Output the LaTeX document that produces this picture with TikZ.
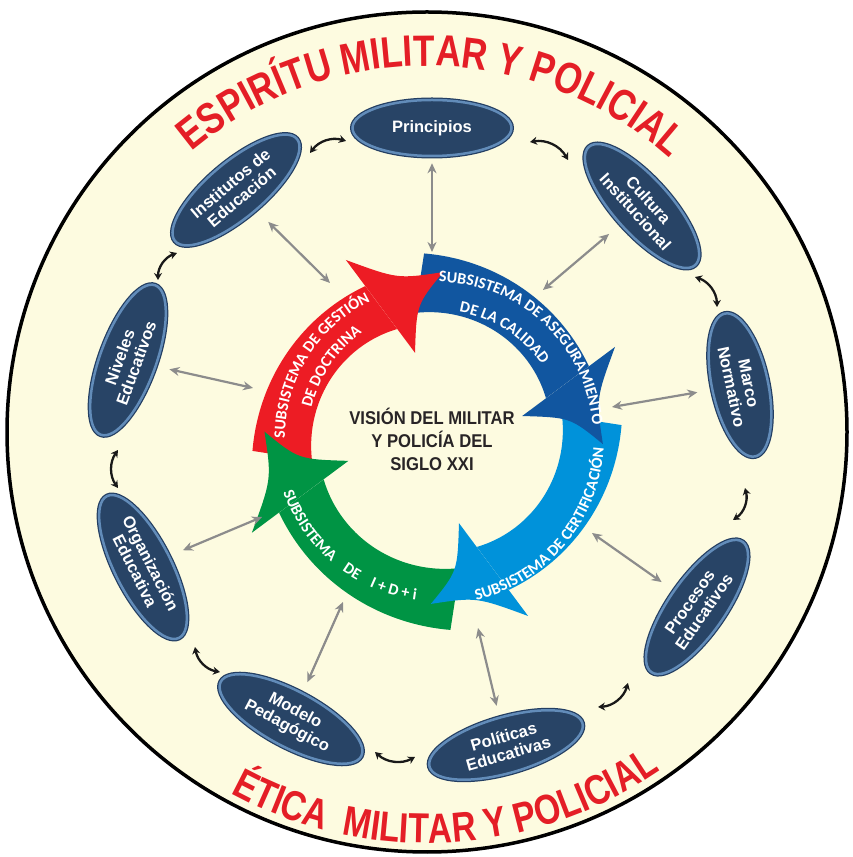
\documentclass[tikz,border=0pt]{standalone}
\usepackage{fontspec}
\setmainfont{Liberation Sans}
\newfontfamily\arcfam[FakeStretch=0.8]{Liberation Sans}
\newfontfamily\ctrfam[FakeStretch=0.9]{Liberation Sans}
\newfontfamily\ellfam{Liberation Sans}
\newfontfamily\ringfam{Carlito}
\usetikzlibrary{shapes.geometric,arrows.meta,decorations.text,calc}
\definecolor{cream}{RGB}{253,251,224}
\definecolor{arcred}{RGB}{228,30,38}
\definecolor{rred}{RGB}{237,28,36}
\definecolor{rblue}{RGB}{17,86,160}
\definecolor{rlblue}{RGB}{0,146,218}
\definecolor{rgreen}{RGB}{0,148,68}
\definecolor{ellfill}{RGB}{40,68,102}
\definecolor{ellrim}{RGB}{98,140,185}
\definecolor{ellout}{RGB}{35,62,98}
\definecolor{grayarrc}{RGB}{140,140,140}
\definecolor{ctrtext}{RGB}{40,36,38}
\newcommand\arcfonta{\arcfam\bfseries\fontsize{44}{44}\selectfont}
\newcommand\arcfontb{\arcfam\bfseries\fontsize{42}{42}\selectfont}
\newcommand\ringfont{\ringfam\bfseries\fontsize{16}{16}\selectfont}
\newcommand\ringband[3]{%
  \begin{scope}[shift={(C)}, rotate=#1, scale=#3]
    \fill[#2] plot[domain=184:115.3, samples=50] (\x:{168+17*((\x-115.3)/68.7)^2})
      -- plot[domain=110.1:190, samples=50] (\x:{116+11*((\x-110.1)/79.9)}) -- cycle;
  \end{scope}}
\newcommand\ringhead[3]{%
  \begin{scope}[shift={(C)}, rotate=#1, scale=#3]
    \fill[#2] (-91.1,178) .. controls (-39.4,159) .. (6.1,165.9)
      .. controls (-20.5,133.4) .. (-22,85.2) -- cycle;
  \end{scope}}
\tikzset{
  ellnode/.style={ellipse, fill=ellfill, draw=ellrim, line width=2.5pt,
    preaction={draw=ellout, line width=5pt},
    minimum width=159pt, minimum height=56pt, inner sep=0pt,
    text=white, align=center, font=\ellfam\bfseries\fontsize{16.5}{17.5}\selectfont},
  grayarr/.style={draw=grayarrc, line width=2.2pt,
    {Stealth[length=10pt,width=9pt]}-{Stealth[length=10pt,width=9pt]}},
  blackarr/.style={draw=black!90, line width=2.3pt,
    {Stealth[length=7pt,width=8pt]}-{Stealth[length=7pt,width=8pt]}},
  ringtext/.style={decorate, decoration={text along path, text align=center, text color=white, text={#1}}}
}
\begin{document}
\begin{tikzpicture}[x=1pt,y=1pt]
\useasboundingbox (0,0) rectangle (852,857);
\fill[white] (0,0) rectangle (852,857);
\coordinate (O) at (427,425);
\coordinate (C) at (437,419);
% big circle
\draw[fill=cream, line width=3.5pt, draw=black] (O) circle[radius=420];
% outer arc texts
\path[decorate, decoration={text along path, text align=center, text color=arcred,
  text={|\arcfonta|ESPIRÍTU MILITAR Y POLICIAL}}]
  ($(O)+(159.2:366)$) arc[start angle=159.2, end angle=19.2, radius=366];
\path[decorate, decoration={text along path, text align=center, text color=arcred,
  text={|\arcfontb|ÉTICA{\kern9pt} MILITAR Y POLICIAL}}]
  ($(O)+(-157:411)$) arc[start angle=-157, end angle=-17, radius=411];
% ring arrows
\ringband{0}{rred}{1}
\ringband{-90}{rblue}{1}
\ringband{-180}{rlblue}{1}
\ringband{90}{rgreen}{1.04}
\ringhead{0}{rred}{1}
\ringhead{-90}{rblue}{1}
\ringhead{-180}{rlblue}{1}
\ringhead{90}{rgreen}{1.04}
% ring texts
\path[ringtext={|\ringfont|SUBSISTEMA DE GESTIÓN}]
  ($(C)+(210:152)$) arc[start angle=210, end angle=86, radius=152];
\path[ringtext={|\ringfont|DE DOCTRINA}]
  ($(C)+(206:129)$) arc[start angle=206, end angle=86, radius=129];
\path[ringtext={|\ringfont|SUBSISTEMA DE ASEGURAMIENTO}]
  ($(C)+(107:156)$) arc[start angle=107, end angle=-13, radius=156];
\path[ringtext={|\ringfont|DE LA CALIDAD}]
  ($(C)+(117.5:128)$) arc[start angle=117.5, end angle=-2.5, radius=128];
\path[ringtext={|\ringfont|SUBSISTEMA DE CERTIFICACIÓN}]
  ($(C)+(-100:167)$) arc[start angle=-100, end angle=20, radius=167];
\path[ringtext={|\ringfont|SUBSISTEMA{\kern10pt} DE{\kern10pt} I + D + i}]
  ($(C)+(171:163)$) arc[start angle=171, end angle=291, radius=163];
% centre text
\node[font=\ctrfam\bfseries\fontsize{18.5}{23}\selectfont, text=ctrtext, align=center]
  (vision) at (432,418) {VISIÓN DEL MILITAR\\Y POLICÍA DEL\\SIGLO XXI};
% ellipses
\node[ellnode] (princ) at (432,729) {Principios};
\node[ellnode, rotate=40] (inst) at (236,667) {Institutos de\\Educación};
\node[ellnode, rotate=-48] (cult) at (642,651) {Cultura\\Institucional};
\node[ellnode, rotate=-78, minimum width=146pt] (marco) at (740,472) {Marco\\Normativo};
\node[ellnode, rotate=55] (proc) at (697,250) {Procesos\\Educativos};
\node[ellnode, rotate=16] (pol) at (506,112) {Políticas\\Educativas};
\node[ellnode, rotate=-28] (mod) at (291,138) {Modelo\\Pedagógico};
\node[ellnode, rotate=-63] (org) at (143,290) {Organización\\Educativa};
\node[ellnode, rotate=70] (niv) at (128,497) {Niveles\\Educativos};
% ring ends of grey arrows
\coordinate (r1) at (432,605);
\coordinate (r2) at (330,574);
\coordinate (r3) at (543,567);
\coordinate (r4) at (612,450);
\coordinate (r5) at (592,324);
\coordinate (r6) at (478,229);
\coordinate (r7) at (343,255);
\coordinate (r8) at (262,340);
\coordinate (r9) at (253,469);
\draw[grayarr, shorten <=6pt] (princ) -- (r1);
\draw[grayarr, shorten <=16pt] (inst) -- (r2);
\draw[grayarr, shorten <=14pt] (cult) -- (r3);
\draw[grayarr, shorten <=14pt] (marco) -- (r4);
\draw[grayarr, shorten <=14pt] (proc) -- (r5);
\draw[grayarr, shorten <=11pt] (pol) -- (r6);
\draw[grayarr, shorten <=11pt] (mod) -- (r7);
\draw[grayarr, shorten <=14pt] (org) -- (r8);
\draw[grayarr, shorten <=13pt] (niv) -- (r9);
% black arrows between ellipses
\coordinate (ka1) at (310,704); \coordinate (ka2) at (346,716);
\coordinate (kb1) at (530,715); \coordinate (kb2) at (568,697);
\coordinate (kc1) at (695,580); \coordinate (kc2) at (717,550);
\coordinate (kd1) at (745,369); \coordinate (kd2) at (733,337);
\coordinate (ke1) at (628,174); \coordinate (ke2) at (598,150);
\coordinate (kf1) at (415,100); \coordinate (kf2) at (375,105);
\coordinate (kg1) at (220,185); \coordinate (kg2) at (195,210);
\coordinate (kh1) at (118,369); \coordinate (kh2) at (118,407);
\coordinate (ki1) at (158,577); \coordinate (ki2) at (177,604);
\foreach \p in {a,b,c,d,e,f,g,h,i}
  \draw[blackarr] (k\p1) to[bend left=35] (k\p2);
\end{tikzpicture}
\end{document}
